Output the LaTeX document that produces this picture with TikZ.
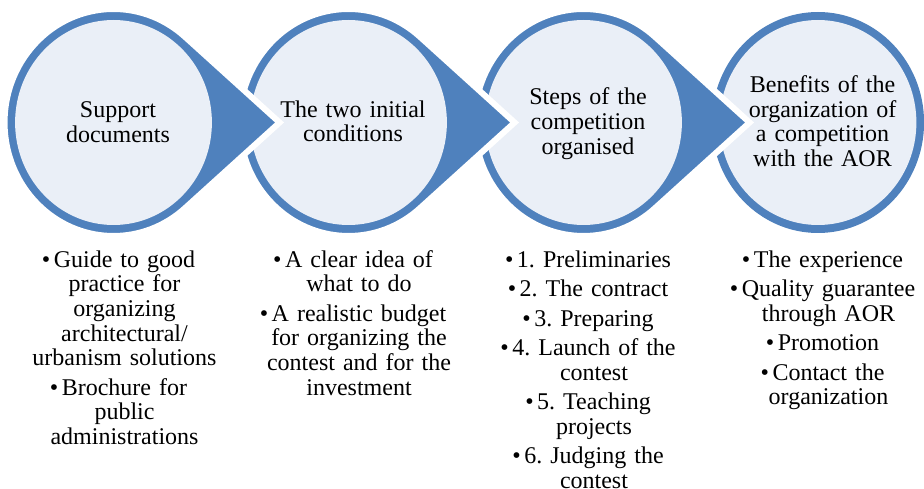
\documentclass[tikz,border=0pt]{standalone}
\usepackage{fontspec}
\setmainfont{Liberation Serif}
\frenchspacing
\definecolor{ringblue}{RGB}{79,129,189}
\definecolor{innerfill}{RGB}{234,239,247}
\newcommand\mybul{\leavevmode\llap{•\hspace{3.5pt}}}
\begin{document}
\begin{tikzpicture}[x=1pt,y=-1pt,
  ctext/.style={font=\fontsize{24}{24.6}\selectfont\frenchspacing, text width=230pt, align=center, anchor=base, inner sep=0pt},
  stepshape/.style={fill=ringblue, draw=white, line width=6pt, line join=miter},
  innerdisc/.style={fill=innerfill}]
\useasboundingbox (0,0) rectangle (924,489);
\pgfmathsetmacro\anga{acos(113.5/173)}
\pgfmathsetmacro\angb{360-\anga}
% step 4 (no arrow)
\begin{scope}[shift={(818,122.5)}, xscale=0.96]
  \fill[ringblue] (0,0) circle[radius=110.5pt];
  \fill[innerdisc] (0,0) circle[radius=102.5pt];
\end{scope}
% steps 3, 2, 1 (drawn right to left so each arrow lies on the next circle)
\foreach \cx in {583.5,348.5,113.5} {
  \begin{scope}[shift={(\cx,122.5)}, xscale=0.96]
    \path[stepshape] (\anga:113.5pt) arc[start angle=\anga, end angle=\angb, radius=113.5pt] -- (173pt,0pt) -- cycle;
    \fill[innerdisc] (0,0) circle[radius=102.5pt];
  \end{scope}
}
% circle texts
\node[ctext] (t1) at (118,118) {Support\\documents};
\node[ctext] (t2) at (353,117.3) {The two initial\\conditions};
\node[ctext] (t3) at (588,105) {Steps of the\\competition\\organised};
\node[ctext] (t4) at (822.5,92.7) {Benefits of the\\organization of\\a competition\\with the AOR};
% bullet lists
\node[ctext] (b1) at (124.5,267.3) {\mybul Guide to good\\practice for\\organizing\\architectural/\\urbanism solutions\\[4.8pt]\mybul Brochure for\\public\\administrations};
\node[ctext] (b2) at (359,267.3) {\mybul A clear idea of\\what to do\\[4.8pt]\mybul A realistic budget\\for organizing the\\contest and for the\\investment};
\node[ctext] (b3) at (594,267.3) {\mybul 1. Preliminaries\\[4.8pt]\mybul 2. The contract\\[4.8pt]\mybul 3. Preparing\\[4.8pt]\mybul 4. Launch of the\\contest\\[4.8pt]\mybul 5. Teaching\\projects\\[4.8pt]\mybul 6. Judging the\\contest};
\node[ctext] (b4) at (828.5,267.3) {\mybul The experience\\[4.8pt]\mybul Quality guarantee\\through AOR\\[4.8pt]\mybul Promotion\\[4.8pt]\mybul Contact the\\organization};
\end{tikzpicture}
\end{document}
